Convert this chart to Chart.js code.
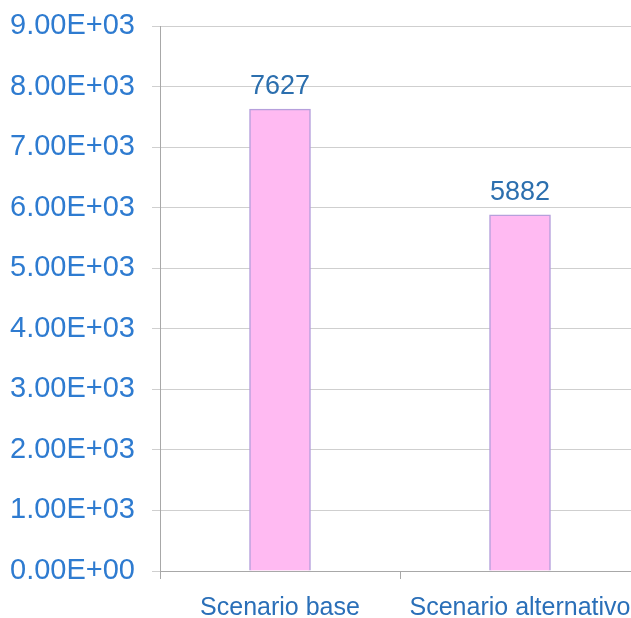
<!DOCTYPE html>
<html>
<head>
<meta charset="utf-8">
<script src="https://cdn.jsdelivr.net/npm/chart.js"></script>
<style>
  html, body { margin: 0; padding: 0; background: #fff; overflow: hidden; }
  #wrap { width: 640px; height: 618px; position: relative; }
</style>
</head>
<body>
<div id="wrap"><canvas id="chart"></canvas></div>
<script>
// dati
const categories = ['Scenario base', 'Scenario alternativo'];
const values = [7627, 5882];
const yMin = 0, yMax = 9000, yStep = 1000;

function sci(v) {
  var parts = Number(v).toExponential(2).split('e');
  var exp = parseInt(parts[1], 10);
  var sign = exp < 0 ? '-' : '+';
  var e = Math.abs(exp).toString().padStart(2, '0');
  return parts[0] + 'E' + sign + e;
}

// etichette sopra le barre
const valueLabels = {
  id: 'valueLabels',
  afterDatasetsDraw(chart) {
    const ctx = chart.ctx;
    const meta = chart.getDatasetMeta(0);
    ctx.save();
    ctx.font = '27px "Liberation Sans", Arial, sans-serif';
    ctx.fillStyle = '#2c6fae';
    ctx.textAlign = 'center';
    ctx.textBaseline = 'bottom';
    meta.data.forEach(function (bar, i) {
      ctx.fillText(String(values[i]), bar.x, bar.y - 9);
    });
    ctx.restore();
  }
};

var ctx = document.getElementById('chart').getContext('2d');
var chart = new Chart(ctx, {
  type: 'bar',
  data: {
    labels: categories,
    datasets: [{
      data: values,
      backgroundColor: '#ffbaf2',
      borderColor: '#b6a0dc',
      borderWidth: 1.5,
      barThickness: 61
    }]
  },
  options: {
    responsive: true,
    maintainAspectRatio: false,
    animation: false,
    layout: { padding: { top: 26, right: 0, left: 0, bottom: 0 } },
    plugins: { legend: { display: false }, tooltip: { enabled: false } },
    scales: {
      x: {
        offset: true,
        grid: {
          offset: true,
          drawOnChartArea: false,
          drawTicks: true,
          tickLength: 8,
          color: '#a8a8a8'
        },
        border: { color: '#a8a8a8', width: 1 },
        ticks: {
          color: '#2a6fb8',
          padding: 14,
          maxRotation: 0,
          autoSkip: false,
          font: { family: '"Liberation Sans", Arial, sans-serif', size: 25 }
        },
        afterFit: function (scale) {
          scale.height = 47;
          scale.paddingLeft = 0;
          scale.paddingRight = 0;
        }
      },
      y: {
        min: yMin,
        max: yMax,
        grid: {
          color: '#cfcfcf',
          tickLength: 8,
          lineWidth: 1
        },
        border: { color: '#a8a8a8', width: 1 },
        ticks: {
          stepSize: yStep,
          color: '#2e7bd0',
          padding: 17,
          font: { family: '"Liberation Sans", Arial, sans-serif', size: 29 },
          callback: function (v) { return sci(v); }
        },
        afterFit: function (scale) {
          scale.width = 160;
          scale.paddingTop = 0;
          scale.paddingBottom = 0;
        }
      }
    }
  },
  plugins: [valueLabels]
});
</script>
</body>
</html>
